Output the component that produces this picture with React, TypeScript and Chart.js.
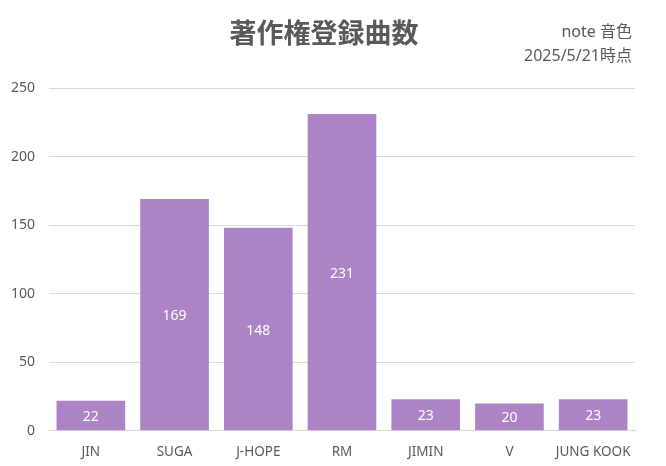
import React, { useEffect, useRef } from "react";
import { Chart, registerables } from "chart.js";

Chart.register(...registerables);

const categories = ["JIN", "SUGA", "J-HOPE", "RM", "JIMIN", "V", "JUNG KOOK"];
const songCounts = [22, 169, 148, 231, 23, 20, 23];
const titleText = "著作権登録曲数";
const sourceLines = ["note 音色", "2025/5/21時点"];

const FONT = "'Noto Sans', 'Noto Sans CJK JP', sans-serif";
const CJK = "'Noto Sans CJK JP', 'Noto Sans', sans-serif";

const labelsPlugin = {
  id: "extras",
  afterDatasetsDraw(chart: any) {
    const ctx = chart.ctx;
    const meta = chart.getDatasetMeta(0);
    ctx.save();
    ctx.fillStyle = "#ffffff";
    ctx.font = `14px ${FONT}`;
    ctx.textAlign = "center";
    ctx.textBaseline = "middle";
    meta.data.forEach((bar: any, i: number) => {
      const y = (bar.y + bar.base) / 2 + 1.5;
      ctx.fillText(String(songCounts[i]), bar.x, y);
    });
    ctx.restore();
  },
  afterDraw(chart: any) {
    const ctx = chart.ctx;
    ctx.save();
    ctx.fillStyle = "#595959";
    ctx.font = `bold 27px ${CJK}`;
    ctx.textAlign = "center";
    ctx.textBaseline = "middle";
    ctx.fillText(titleText, 324, 33);
    ctx.font = `16px ${FONT}`;
    ctx.textAlign = "right";
    ctx.fillText(sourceLines[0], 632, 32);
    ctx.fillText(sourceLines[1], 632, 56);
    ctx.restore();
  },
};

export default function App() {
  const ref = useRef<HTMLCanvasElement>(null);
  useEffect(() => {
    document.body.style.margin = "0";
    const chart = new Chart(ref.current!, {
      type: "bar",
      data: {
        labels: categories,
        datasets: [
          {
            data: songCounts,
            backgroundColor: "#AC84C6",
            barPercentage: 0.82,
            categoryPercentage: 1,
          },
        ],
      },
      options: {
        animation: false,
        responsive: false,
        layout: { padding: { top: 88, right: 31, left: 11, bottom: 1 } },
        plugins: { legend: { display: false }, tooltip: { enabled: false } },
        scales: {
          x: {
            grid: { display: false },
            border: { color: "#D9D9D9" },
            ticks: { color: "#595959", font: { family: FONT, size: 13.5 }, padding: 5 },
          },
          y: {
            min: 0,
            max: 250,
            afterFit: (scale: any) => {
              scale.width = 38;
            },
            ticks: { stepSize: 50, color: "#595959", font: { family: FONT, size: 14 }, padding: 14 },
            grid: { color: "#D9D9D9", drawTicks: false },
            border: { display: false },
          },
        },
      },
      plugins: [labelsPlugin],
    });
    return () => chart.destroy();
  }, []);
  return (
    <div style={{ position: "absolute", left: 0, top: 0 }}>
      <canvas ref={ref} width={666} height={466} style={{ width: 666, height: 466 }} />
    </div>
  );
}
